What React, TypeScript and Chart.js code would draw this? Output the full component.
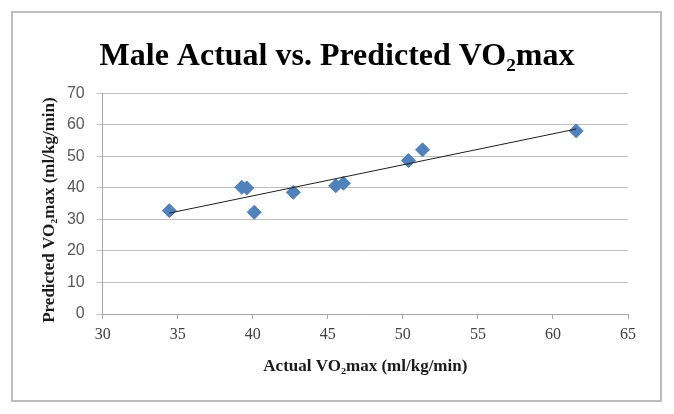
import React, { useEffect, useRef } from "react";
import { Chart, registerables } from "chart.js";

Chart.register(...registerables);

const actualVO2 = [34.44, 39.27, 39.6, 40.1, 42.7, 45.53, 46.04, 50.37, 51.31, 61.55];
const predictedVO2 = [32.8, 40.2, 40.0, 32.3, 38.6, 40.7, 41.5, 48.7, 52.1, 58.1];
const xTicks = [30, 35, 40, 45, 50, 55, 60, 65];
const yTicks = [0, 10, 20, 30, 40, 50, 60, 70];

const chartTitle = "Male Actual vs. Predicted VO\u2082max";
const xTitle = "Actual VO\u2082max (ml/kg/min)";
const yTitle = "Predicted VO\u2082max (ml/kg/min)   ";

function linearFit(xs: number[], ys: number[]) {
  const n = xs.length;
  const mx = xs.reduce((a, b) => a + b, 0) / n;
  const my = ys.reduce((a, b) => a + b, 0) / n;
  let sxy = 0;
  let sxx = 0;
  for (let i = 0; i < n; i++) {
    sxy += (xs[i] - mx) * (ys[i] - my);
    sxx += (xs[i] - mx) * (xs[i] - mx);
  }
  const slope = sxy / sxx;
  return { slope, intercept: my - slope * mx };
}

const SERIF = "'Liberation Serif', 'Times New Roman', 'DejaVu Serif', serif";
const SANS = "'Liberation Sans', Arial, sans-serif";

export default function App() {
  const canvasRef = useRef<HTMLCanvasElement | null>(null);

  useEffect(() => {
    const canvas = canvasRef.current;
    if (!canvas) return;
    const points = actualVO2.map((x, i) => ({ x, y: predictedVO2[i] }));
    const fit = linearFit(actualVO2, predictedVO2);
    const minX = Math.min(...actualVO2);
    const maxX = Math.max(...actualVO2);
    const trend = [
      { x: minX, y: fit.intercept + fit.slope * minX },
      { x: maxX, y: fit.intercept + fit.slope * maxX },
    ];

    const chart = new Chart(canvas, {
      type: "scatter",
      data: {
        datasets: [
          {
            label: "Trendline",
            data: trend,
            showLine: true,
            borderColor: "#1e1e1e",
            borderWidth: 1,
            pointRadius: 0,
            order: 0,
          },
          {
            label: "Male",
            data: points,
            pointStyle: "rectRot",
            pointRadius: 7,
            backgroundColor: "#4f81bd",
            borderColor: "#4f81bd",
            borderWidth: 1,
            order: 1,
          },
        ],
      },
      options: {
        animation: false,
        responsive: false,
        devicePixelRatio: 1,
        layout: { padding: { left: 0, right: 0, top: 0, bottom: 0 } },
        plugins: {
          legend: { display: false },
          tooltip: { enabled: false },
          title: {
            display: true,
            text: chartTitle,
            color: "#000000",
            font: { family: SERIF, size: 32, weight: "bold" },
            padding: { top: 38, bottom: 17 },
          },
        },
        scales: {
          x: {
            type: "linear",
            min: 30,
            max: 65,
            afterBuildTicks: (scale: any) => {
              scale.ticks = xTicks.map((v) => ({ value: v }));
            },
            afterFit: (scale: any) => {
              scale.height = 100;
            },
            ticks: {
              color: "#404040",
              font: { family: SERIF, size: 16 },
              padding: 6,
            },
            grid: {
              display: true,
              drawOnChartArea: false,
              drawTicks: true,
              tickLength: 5,
              color: "#a6a6a6",
            },
            border: { display: true, color: "#a6a6a6", width: 1 },
            title: {
              display: true,
              text: xTitle,
              color: "#1a1a1a",
              font: { family: SERIF, size: 17, weight: "bold" },
              padding: { top: 0, bottom: 37 },
            },
          },
          y: {
            type: "linear",
            position: "left",
            min: 0,
            max: 70,
            afterBuildTicks: (scale: any) => {
              scale.ticks = yTicks.map((v) => ({ value: v }));
            },
            afterFit: (scale: any) => {
              scale.width = 102.7;
            },
            ticks: {
              color: "#595959",
              font: { family: SANS, size: 16 },
              padding: 12,
            },
            grid: {
              display: true,
              drawOnChartArea: true,
              drawTicks: true,
              tickLength: 6,
              color: "#bfbfbf",
            },
            border: { display: true, color: "#a6a6a6", width: 1 },
            title: {
              display: true,
              text: yTitle,
              color: "#1a1a1a",
              font: { family: SERIF, size: 17, weight: "bold" },
              padding: { top: 39, bottom: 0 },
            },
          },
          spacer: {
            type: "linear",
            position: "right",
            display: true,
            min: 0,
            max: 70,
            afterFit: (scale: any) => {
              scale.width = 46;
            },
            ticks: { display: false },
            grid: { display: false, drawOnChartArea: false, drawTicks: false },
            border: { display: false },
            title: { display: false },
          },
        },
      },
    } as any);

    return () => {
      chart.destroy();
    };
  }, []);

  return (
    <>
      <canvas
        ref={canvasRef}
        width={674}
        height={414}
        style={{ position: "absolute", left: 0, top: 0, width: 674, height: 414 }}
      />
      <div
        style={{
          position: "absolute",
          left: 11,
          top: 11,
          width: 651,
          height: 391,
          boxSizing: "border-box",
          border: "2px solid #bdbdbd",
          pointerEvents: "none",
        }}
      />
    </>
  );
}
